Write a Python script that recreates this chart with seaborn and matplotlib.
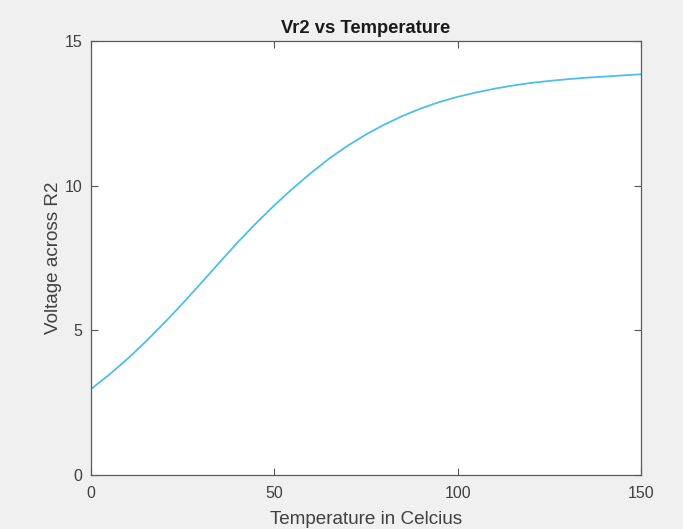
import numpy as np
import pandas as pd
import matplotlib
matplotlib.use("Agg")
import matplotlib.pyplot as plt
import seaborn as sns

# values
temperature = [0, 5, 10, 15, 20, 25, 30, 35, 40, 45, 50, 55, 60, 65, 70, 75,
               80, 85, 90, 95, 100, 105, 110, 115, 120, 125, 130, 135, 140, 145, 150]
vr2 = [2.97, 3.47, 4.02, 4.62, 5.26, 5.93, 6.63, 7.34, 8.04, 8.70, 9.32, 9.90,
       10.44, 10.94, 11.38, 11.77, 12.11, 12.41, 12.67, 12.89, 13.07, 13.22,
       13.35, 13.46, 13.55, 13.62, 13.68, 13.73, 13.77, 13.81, 13.85]
x_ticks = [0, 50, 100, 150]
y_ticks = [0, 5, 10, 15]

df = pd.DataFrame({"Temperature": temperature, "Vr2": vr2})

sns.set_style("ticks")
plt.rcParams['font.family'] = ['Liberation Sans', 'DejaVu Sans']

fig = plt.figure(figsize=(6.83, 5.29), dpi=100, facecolor='#f0f0f0')
ax = fig.add_axes([91 / 683, 54 / 529, 550 / 683, 434 / 529])
ax.set_facecolor('white')

sns.lineplot(data=df, x="Temperature", y="Vr2", ax=ax, color='#4DBEEE', linewidth=1.3)

ax.set_xlim(0, 150)
ax.set_ylim(0, 15)
ax.set_xticks(x_ticks)
ax.set_yticks(y_ticks)
ax.tick_params(direction='in', top=True, right=True, length=5, width=0.8,
               colors='#555555', labelcolor='#404040', labelsize=11.5)
ax.tick_params(axis='x', pad=8)
ax.tick_params(axis='y', pad=6)
for s in ax.spines.values():
    s.set_color('#5a5a5a')
    s.set_linewidth(0.9)

ax.set_title('Vr2 vs Temperature', fontsize=13.2, fontweight='bold', color='#1a1a1a', pad=6)
ax.set_xlabel('Temperature in Celcius', fontsize=13.6, color='#404040', labelpad=7)
ax.set_ylabel('Voltage across R2', fontsize=13.6, color='#404040', labelpad=2)

fig.savefig('out.png', dpi=100, facecolor=fig.get_facecolor())
